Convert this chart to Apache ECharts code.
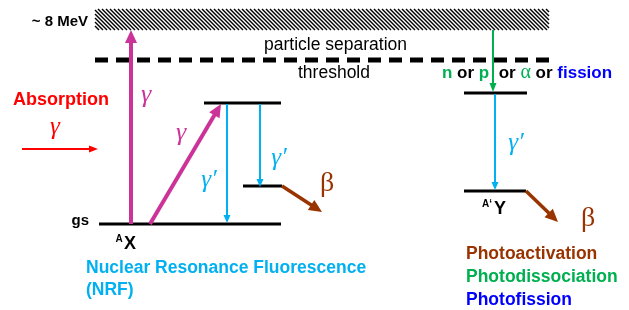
<!DOCTYPE html>
<html><head><meta charset="utf-8">
<script src="https://cdn.jsdelivr.net/npm/echarts@6/dist/echarts.min.js"></script>
<style>html,body{margin:0;padding:0;background:#fff}#c{width:629px;height:310px}</style>
</head><body><div id="c"></div>
<script>
// Diagram units (x across, y downward on the page; higher energy = smaller y)
const hatchBand = [[95, 549, 9, 30]];               // x1, x2, yTop, yBottom  (~8 MeV continuum)
const separationLine = [[95, 549, 60]];             // x1, x2, y (particle separation threshold)
const levels = [                                     // x1, x2, y
  [99, 281, 224],   // ground state of AX
  [204, 281, 103],  // excited NRF level
  [243, 282, 186],  // intermediate level
  [464, 527, 93],   // level reached after particle emission
  [464, 526, 191]   // ground state of A'Y
];
const arrows = [                                     // x1, y1, x2, y2, kind
  [131, 224, 131, 30, 'gamma'],
  [150, 224, 221, 104, 'gamma'],
  [227, 104, 227, 223, 'gammaOut'],
  [260, 104, 260, 187, 'gammaOut'],
  [282, 186, 322, 212, 'beta'],
  [22, 149, 98, 149, 'absorb'],
  [493, 30, 493, 92, 'particle'],
  [495, 94, 495, 190, 'gammaOut'],
  [526, 191, 558, 222, 'beta']
];
const labels = [                                     // x, y, text, kind, align
  [88, 22, '~ 8 MeV', 'mev', 'right'],
  [264, 45, 'particle separation', 'plain', 'left'],
  [298, 73, 'threshold', 'plain', 'left'],
  [13, 100, 'Absorption', 'absorb', 'left'],
  [55, 127, 'γ', 'gammaRed', 'center'],
  [146, 95, 'γ', 'gammaMag', 'center'],
  [181, 133, 'γ', 'gammaMag', 'center'],
  [209, 180, 'γ′', 'gammaCyan', 'center'],
  [279, 158, 'γ′', 'gammaCyan', 'center'],
  [516, 143, 'γ′', 'gammaCyan', 'center'],
  [327, 184, 'β', 'beta', 'center'],
  [588, 219, 'β', 'beta', 'center'],
  [89, 221, 'gs', 'gs', 'right'],
  [119, 239, 'A', 'sup', 'center'],
  [130, 244, 'X', 'nuc', 'center'],
  [487, 204, 'A‘', 'sup', 'center'],
  [500, 209, 'Y', 'nuc', 'center'],
  [86, 268, 'Nuclear Resonance Fluorescence', 'nrf', 'left'],
  [86, 290, '(NRF)', 'nrf', 'left'],
  [466, 254, 'Photoactivation', 'pa', 'left'],
  [466, 277, 'Photodissociation', 'pd', 'left'],
  [466, 300, 'Photofission', 'pf', 'left'],
  [442, 73, '{g|n} or {g|p}  or {ga|α} or {b|fission}', 'channels', 'left']
];

const C = {magenta:'#cc3399', cyan:'#00b0f0', red:'#ff0000', green:'#00b050', blue:'#0000ff', brown:'#993300', black:'#000000'};
const SANS = '"Liberation Sans", Arial, sans-serif';
const SERIF = '"Liberation Serif", "Times New Roman", serif';
const arrowStyles = {
  gamma:   {color:C.magenta, width:4, head:13, half:6},
  gammaOut:{color:C.cyan, width:2, head:8, half:3.5},
  beta:    {color:C.brown, width:3.5, head:13, half:6},
  absorb:  {color:C.red, width:2, head:9, half:3.5},
  particle:{color:C.green, width:2, head:9, half:3.5}
};
const textStyles = {
  mev:{fill:C.black, font:'bold 15px '+SANS},
  plain:{fill:C.black, font:'17.5px '+SANS},
  absorb:{fill:C.red, font:'bold 18px '+SANS},
  gammaRed:{fill:C.red, font:'italic 25px '+SERIF},
  gammaMag:{fill:C.magenta, font:'italic 26px '+SERIF},
  gammaCyan:{fill:C.cyan, font:'italic 25px '+SERIF},
  beta:{fill:C.brown, font:'28px '+SERIF},
  gs:{fill:C.black, font:'bold 15px '+SANS},
  sup:{fill:C.black, font:'bold 10px '+SANS},
  nuc:{fill:C.black, font:'bold 18px '+SANS},
  nrf:{fill:C.cyan, font:'bold 17.5px '+SANS},
  pa:{fill:C.brown, font:'bold 17.5px '+SANS},
  pd:{fill:C.green, font:'bold 17.5px '+SANS},
  pf:{fill:C.blue, font:'bold 17.5px '+SANS},
  channels:{fill:C.black, font:'bold 17px '+SANS, rich:{
    g:{fill:C.green, font:'bold 17px '+SANS},
    ga:{fill:C.green, font:'20px '+SERIF},
    b:{fill:C.blue, font:'bold 17px '+SANS}
  }}
};

const chart = echarts.init(document.getElementById('c'), null, {renderer:'canvas'});

function renderHatch(params, api){
  const h = hatchBand[params.dataIndex];
  const p0 = api.coord([h[0], h[2]]), p1 = api.coord([h[1], h[3]]);
  const x0 = p0[0], x1 = p1[0], yT = p0[1], yB = p1[1], H = yB - yT;
  const children = [];
  for (let a = x0 - H; a < x1; a += 4) {
    const t0 = Math.max(0, x0 - a), t1 = Math.min(H, x1 - a);
    if (t1 <= t0) continue;
    children.push({type:'line', shape:{x1:a+t0, y1:yT+t0, x2:a+t1, y2:yT+t1},
      style:{stroke:'#000', lineWidth:1.4}});
  }
  return {type:'group', children};
}
function renderSep(params, api){
  const s = separationLine[params.dataIndex];
  const a = api.coord([s[0], s[2]]), b = api.coord([s[1], s[2]]);
  return {type:'line', shape:{x1:a[0], y1:a[1], x2:b[0], y2:b[1]},
    style:{stroke:'#000', lineWidth:5, lineDash:[13, 8]}};
}
function renderLevel(params, api){
  const l = levels[params.dataIndex];
  const a = api.coord([l[0], l[2]]), b = api.coord([l[1], l[2]]);
  return {type:'line', shape:{x1:a[0], y1:a[1], x2:b[0], y2:b[1]},
    style:{stroke:'#000', lineWidth:3}};
}
function renderArrow(params, api){
  const a = arrows[params.dataIndex];
  const s = arrowStyles[a[4]];
  const p1 = api.coord([a[0], a[1]]), p2 = api.coord([a[2], a[3]]);
  const dx = p2[0]-p1[0], dy = p2[1]-p1[1], L = Math.hypot(dx, dy), ux = dx/L, uy = dy/L;
  const bx = p2[0]-ux*s.head, by = p2[1]-uy*s.head, nx = -uy, ny = ux;
  return {type:'group', children:[
    {type:'line', shape:{x1:p1[0], y1:p1[1], x2:bx+ux*2, y2:by+uy*2}, style:{stroke:s.color, lineWidth:s.width}},
    {type:'polygon', shape:{points:[[p2[0],p2[1]],[bx+nx*s.half,by+ny*s.half],[bx-nx*s.half,by-ny*s.half]]}, style:{fill:s.color}}
  ]};
}
function renderLabel(params, api){
  const l = labels[params.dataIndex];
  const st = textStyles[l[3]];
  const p = api.coord([l[0], l[1]]);
  const style = Object.assign({text:l[2], align:l[4], verticalAlign:'middle'}, st);
  return {type:'text', x:p[0], y:p[1], style};
}

chart.setOption({
  animation:false,
  backgroundColor:'#ffffff',
  grid:{left:0, right:0, top:0, bottom:0},
  xAxis:{type:'value', min:0, max:629, show:false},
  yAxis:{type:'value', min:0, max:310, inverse:true, show:false},
  series:[
    {type:'custom', renderItem:renderHatch, data:hatchBand.map(h=>[h[0],h[2]]), silent:true},
    {type:'custom', renderItem:renderSep, data:separationLine.map(s=>[s[0],s[2]]), silent:true},
    {type:'custom', renderItem:renderLevel, data:levels.map(l=>[l[0],l[2]]), silent:true},
    {type:'custom', renderItem:renderArrow, data:arrows.map(a=>[a[0],a[1]]), silent:true},
    {type:'custom', renderItem:renderLabel, data:labels.map(l=>[l[0],l[1]]), silent:true}
  ]
});
</script></body></html>
